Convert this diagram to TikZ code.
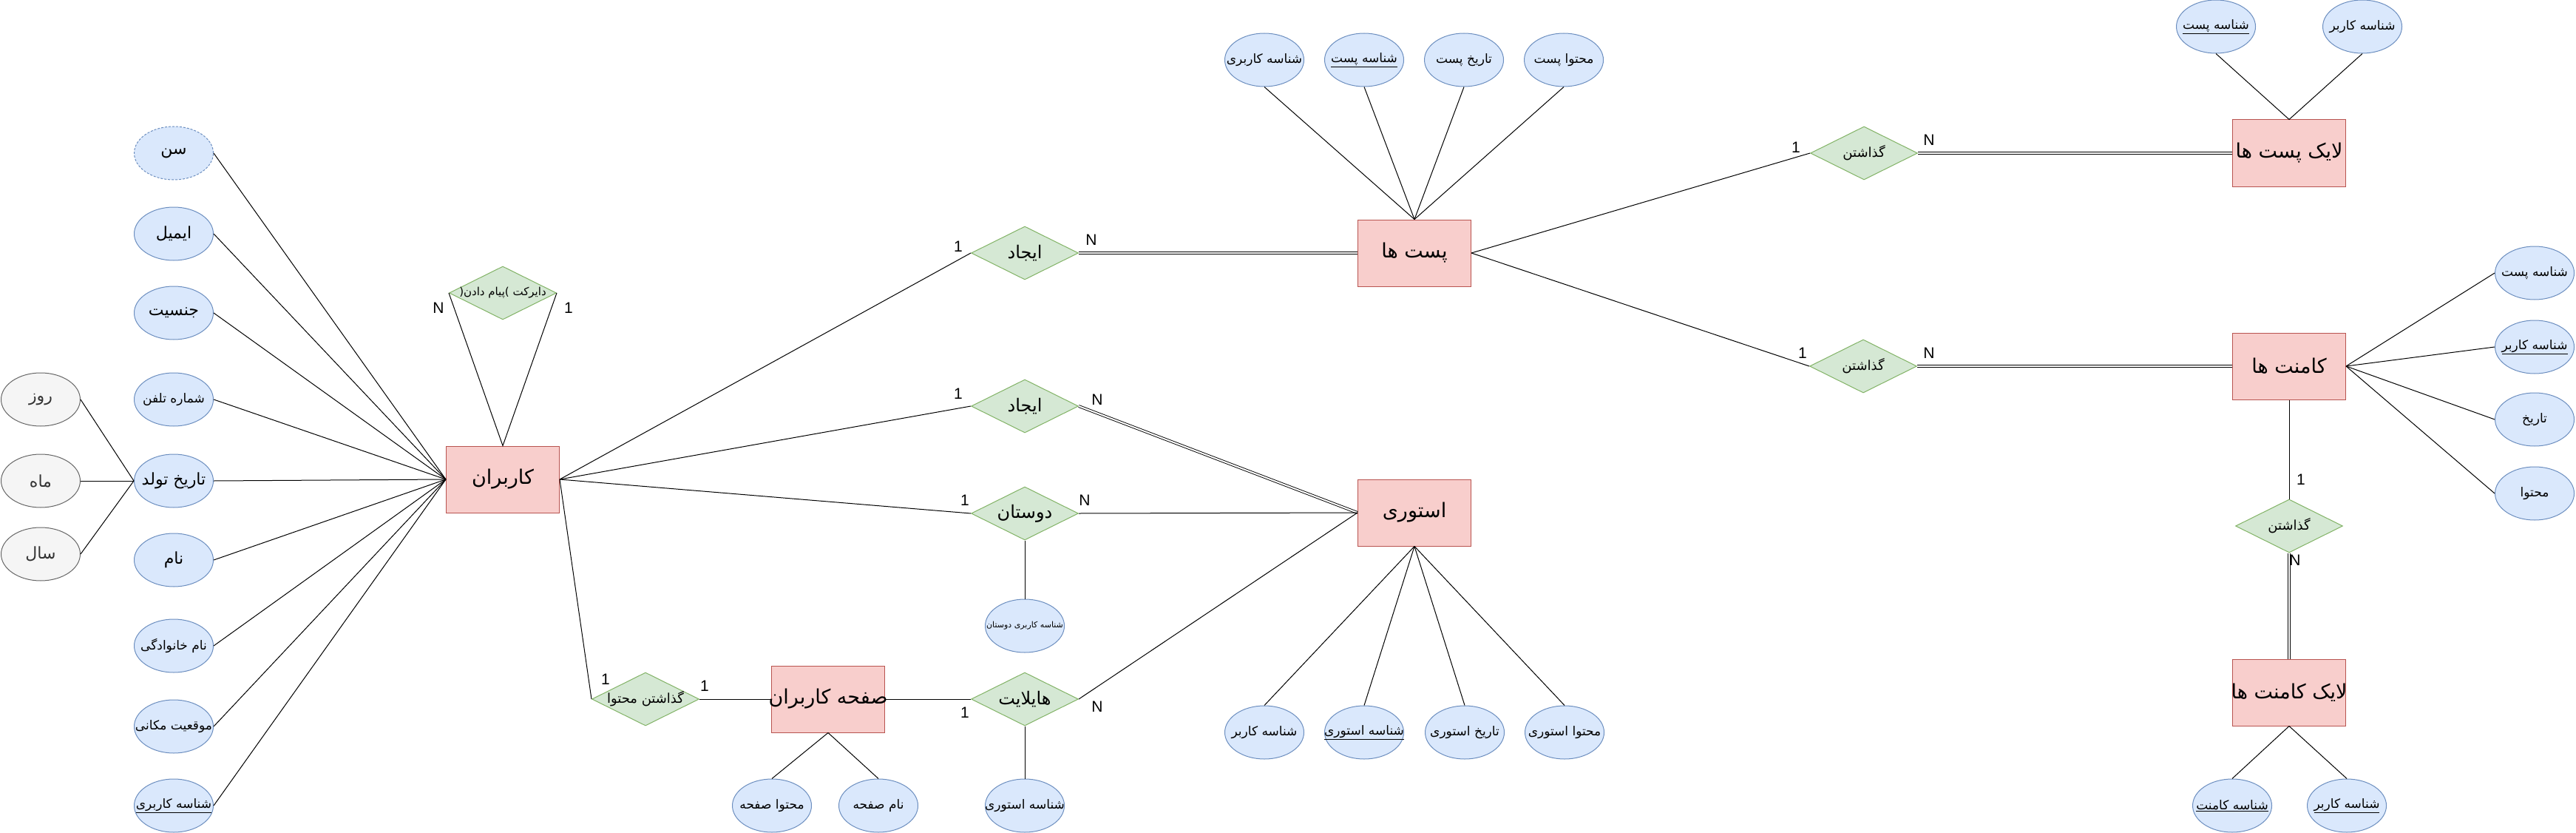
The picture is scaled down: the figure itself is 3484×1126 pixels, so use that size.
\documentclass[tikz,border=0pt]{standalone}
\usepackage{fontspec}
\setmainfont{Liberation Sans}
\newfontfamily\farsi[Script=Arabic]{DejaVu Sans}
\TeXXeTstate=1
\usetikzlibrary{shapes.geometric}

\definecolor{entfill}{HTML}{F8CECC}
\definecolor{entline}{HTML}{B85450}
\definecolor{attfill}{HTML}{DAE8FC}
\definecolor{attline}{HTML}{6C8EBF}
\definecolor{relfill}{HTML}{D5E8D4}
\definecolor{relline}{HTML}{82B366}
\definecolor{subfill}{HTML}{F5F5F5}
\definecolor{subline}{HTML}{666666}
\definecolor{subtext}{HTML}{333333}

\newcommand{\fatxt}[1]{\makebox[0pt]{\farsi\beginR #1\endR}}
\newcommand{\fakey}[1]{\makebox[0pt]{\underline{\farsi\beginR #1\endR}}}

\tikzset{
  entity/.style={rectangle, draw=entline, fill=entfill, line width=1pt,
    minimum width=153pt, minimum height=90pt, inner sep=0pt,
    font=\fontsize{27}{30}\selectfont},
  attr/.style={ellipse, draw=attline, fill=attfill, line width=1pt,
    minimum width=107pt, minimum height=72pt, inner sep=0pt,
    font=\fontsize{17}{20}\selectfont},
  bigattr/.style={attr, font=\fontsize{22}{26}\selectfont},
  subattr/.style={bigattr, draw=subline, fill=subfill, text=subtext},
  rel/.style={diamond, draw=relline, fill=relfill, line width=1pt,
    minimum width=145pt, minimum height=72pt, inner sep=0pt,
    font=\fontsize{18}{22}\selectfont},
  bigrel/.style={rel, font=\fontsize{24}{28}\selectfont},
  card/.style={inner sep=0pt, font=\fontsize{21}{24}\selectfont},
  link/.style={line width=1pt},
  total/.style={double, double distance=2pt, line width=0.9pt}
}

\begin{document}
\begin{tikzpicture}[x=1pt, y=-1pt]
\useasboundingbox (0,0) rectangle (3484,1126);

% users and their attributes
\node[entity] (users) at (680,648) {\fatxt{کاربران}};
\node[bigattr, dash pattern=on 3pt off 2pt] (age) at (235,207) {\fatxt{سن}};
\node[bigattr] (email) at (235,316) {\fatxt{ایمیل}};
\node[bigattr] (gender) at (235,423) {\fatxt{جنسیت}};
\node[attr] (phone) at (235,540) {\fatxt{شماره تلفن}};
\node[bigattr] (birth) at (235,650) {\fatxt{تاریخ تولد}};
\node[bigattr] (fname) at (235,757) {\fatxt{نام}};
\node[attr] (lname) at (235,873) {\fatxt{نام خانوادگی}};
\node[attr] (place) at (235,982) {\fatxt{موقعیت مکانی}};
\node[attr] (uid) at (235,1089) {\fakey{شناسه کاربری}};
\node[subattr] (day) at (55,540) {\fatxt{روز}};
\node[subattr] (month) at (55,650) {\fatxt{ماه}};
\node[subattr] (year) at (55,749) {\fatxt{سال}};
\foreach \a in {age,email,gender,phone,birth,fname,lname,place,uid}
  \draw[link] (\a.east) -- (users.west);
\foreach \a in {day,month,year}
  \draw[link] (\a.east) -- (birth.west);

% direct messages
\node[rel, font=\fontsize{15}{18}\selectfont] (direct) at (680,396)
  {\makebox[0pt]{\farsi\beginR دایرکت \beginL(\beginR پیام دادن\endR)\endL\endR}};
\draw[link] (direct.west) -- (users.north) -- (direct.east);
\node[card] (dn) at (593,416) {N};
\node[card] (d1) at (769,416) {1};

% posts
\node[entity] (posts) at (1913,342) {\fatxt{پست ها}};
\node[bigrel] (mkpost) at (1386,342) {\fatxt{ایجاد}};
\draw[link] (users.east) -- (mkpost.west);
\draw[total] (mkpost.east) -- (posts.west);
\node[card] (mp1) at (1296,333) {1};
\node[card] (mpn) at (1476,324) {N};
\node[attr] (puid) at (1710,81) {\fatxt{شناسه کاربری}};
\node[attr] (pid) at (1845,81) {\fakey{شناسه پست}};
\node[attr] (pdate) at (1980,81) {\fatxt{تاریخ پست}};
\node[attr] (pbody) at (2115,81) {\fatxt{محتوا پست}};
\foreach \a in {puid,pid,pdate,pbody}
  \draw[link] (\a.south) -- (posts.north);

% stories
\node[entity] (story) at (1913,693) {\fatxt{استوری}};
\node[bigrel] (mkstory) at (1386,549) {\fatxt{ایجاد}};
\draw[link] (users.east) -- (mkstory.west);
\draw[total] (mkstory.east) -- (story.west);
\node[card] (ms1) at (1296,532) {1};
\node[card] (msn) at (1484,540) {N};
\node[bigrel] (friends) at (1386,694) {\fatxt{دوستان}};
\draw[link] (users.east) -- (friends.west);
\draw[link] (friends.east) -- (story.west);
\node[card] (f1) at (1305,676) {1};
\node[card] (fn) at (1467,676) {N};
\node[attr, font=\fontsize{11}{13}\selectfont] (fid) at (1386,846) {\fatxt{شناسه کاربری دوستان}};
\draw[link] (friends.south) -- (fid.north);
\node[attr] (suid) at (1710,990) {\fatxt{شناسه کاربر}};
\node[attr] (sid) at (1845,990) {\fakey{شناسه استوری}};
\node[attr] (sdate) at (1981,990) {\fatxt{تاریخ استوری}};
\node[attr] (sbody) at (2116,990) {\fatxt{محتوا استوری}};
\foreach \a in {suid,sid,sdate,sbody}
  \draw[link] (story.south) -- (\a.north);

% user page and highlights
\node[entity] (page) at (1120,945) {\fatxt{صفحه کاربران}};
\node[rel] (putc) at (873,945) {\fatxt{گذاشتن محتوا}};
\draw[link] (users.east) -- (putc.west);
\draw[link] (putc.east) -- (page.west);
\node[card] (pc1) at (819,918) {1};
\node[card] (pc2) at (953,927) {1};
\node[attr] (pgbody) at (1044,1089) {\fatxt{محتوا صفحه}};
\node[attr] (pgname) at (1188,1089) {\fatxt{نام صفحه}};
\draw[link] (page.south) -- (pgbody.north);
\draw[link] (page.south) -- (pgname.north);
\node[bigrel] (hl) at (1386,945) {\fatxt{هایلایت}};
\draw[link] (page.east) -- (hl.west);
\draw[link] (hl.east) -- (story.west);
\node[card] (h1) at (1305,963) {1};
\node[card] (hn) at (1484,955) {N};
\node[attr] (hsid) at (1386,1089) {\fatxt{شناسه استوری}};
\draw[link] (hl.south) -- (hsid.north);

% post likes
\node[entity] (plike) at (3096,207) {\fatxt{لایک پست ها}};
\node[rel] (putl) at (2521,207) {\fatxt{گذاشتن}};
\draw[link] (posts.east) -- (putl.west);
\draw[total] (putl.east) -- (plike.west);
\node[card] (pl1) at (2429,199) {1};
\node[card] (pln) at (2609,189) {N};
\node[attr] (lpid) at (2997,36) {\fakey{شناسه پست}};
\node[attr] (luid) at (3195,36) {\fatxt{شناسه کاربر}};
\draw[link] (lpid.south) -- (plike.north) -- (luid.south);

% comments
\node[entity] (cmt) at (3096,495) {\fatxt{کامنت ها}};
\node[rel] (putm) at (2520,495) {\fatxt{گذاشتن}};
\draw[link] (posts.east) -- (putm.west);
\draw[total] (putm.east) -- (cmt.west);
\node[card] (pm1) at (2438,477) {1};
\node[card] (pmn) at (2609,477) {N};
\node[attr] (cpid) at (3428,369) {\fatxt{شناسه پست}};
\node[attr] (cuid) at (3428,469) {\fakey{شناسه کاربر}};
\node[attr] (cdate) at (3428,567) {\fatxt{تاریخ}};
\node[attr] (cbody) at (3428,667) {\fatxt{محتوا}};
\foreach \a in {cpid,cuid,cdate,cbody}
  \draw[link] (cmt.east) -- (\a.west);

% comment likes
\node[entity] (clike) at (3096,936) {\fatxt{لایک کامنت ها}};
\node[rel] (putk) at (3096,711) {\fatxt{گذاشتن}};
\draw[link] (cmt.south) -- (putk.north);
\draw[total] (putk.south) -- (clike.north);
\node[card] (pk1) at (3112,648) {1};
\node[card] (pkn) at (3104,757) {N};
\node[attr] (kcid) at (3019,1089) {\fakey{شناسه کامنت}};
\node[attr] (kuid) at (3174,1089) {\fakey{شناسه کاربر}};
\draw[link] (clike.south) -- (kcid.north);
\draw[link] (clike.south) -- (kuid.north);
\end{tikzpicture}
\end{document}
